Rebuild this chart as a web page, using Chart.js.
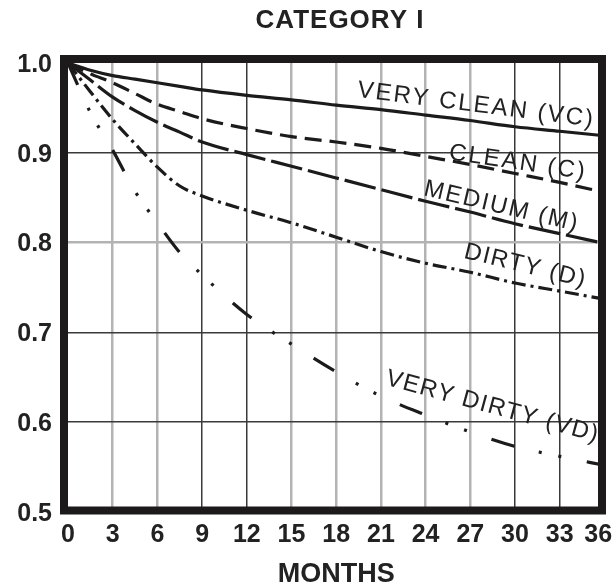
<!DOCTYPE html>
<html>
<head>
<meta charset="utf-8">
<script src="https://cdn.jsdelivr.net/npm/chart.js@4.4.1/dist/chart.umd.min.js"></script>
<style>
  html, body { margin: 0; padding: 0; background: #ffffff; }
  canvas { display: block; }
</style>
</head>
<body>
<canvas id="chart" width="613" height="588"></canvas>
<script>
// Elapsed time in months and the remaining fraction for each soiling class
const months     = [0, 1.5, 3, 4.5, 6, 7.5, 9, 12, 15, 18, 21, 24, 27, 30, 33, 36];
const veryClean  = [1.0, 0.992, 0.986, 0.982, 0.978, 0.974, 0.970, 0.964, 0.959, 0.953, 0.948, 0.942, 0.936, 0.929, 0.924, 0.919];
const clean      = [1.0, 0.988, 0.978, 0.966, 0.954, 0.946, 0.938, 0.927, 0.918, 0.912, 0.905, 0.896, 0.887, 0.877, 0.867, 0.856];
const medium     = [1.0, 0.981, 0.962, 0.947, 0.934, 0.923, 0.912, 0.898, 0.885, 0.872, 0.859, 0.846, 0.834, 0.821, 0.810, 0.799];
const dirty      = [1.0, 0.968, 0.937, 0.910, 0.884, 0.863, 0.852, 0.836, 0.822, 0.806, 0.790, 0.777, 0.767, 0.755, 0.746, 0.737];
const veryDirty  = [1.0, 0.945, 0.903, 0.857, 0.822, 0.789, 0.764, 0.720, 0.687, 0.656, 0.629, 0.608, 0.589, 0.573, 0.562, 0.552];

const seriesNames = ['VERY CLEAN (VC)', 'CLEAN (C)', 'MEDIUM (M)', 'DIRTY (D)', 'VERY DIRTY (VD)'];
const xTickValues = [0, 3, 6, 9, 12, 15, 18, 21, 24, 27, 30, 33, 36];
const yTickValues = [0.5, 0.6, 0.7, 0.8, 0.9, 1.0];
const chartTitle = 'CATEGORY I';
const xAxisTitle = 'MONTHS';

// Which grid lines are printed dark (the rest are light grey)
const darkMonthLines = [9, 12, 30, 33];
const darkValueLines = [0.6, 0.7, 0.9];

const FONT = "'Liberation Sans', Arial, Helvetica, sans-serif";
const INK = '#1c1a1b';

const toPoints = arr => months.map((m, i) => ({ x: m, y: arr[i] }));

const lineStyles = [
  { dash: [] },
  { dash: [17, 8] },
  { dash: [32, 6] },
  { dash: [14, 5, 3, 5] },
  { dash: [24, 25, 3, 17, 3, 26] }
];
const seriesData = [veryClean, clean, medium, dirty, veryDirty];

// In-plot curve captions: anchor in data units, rotation (degrees), letter spacing (px)
const captionPlacement = [
  { at: [27.4, 0.953], angle: 7.2,  spacing: 2.1 },
  { at: [30.2, 0.889], angle: 8.3,  spacing: 2.1 },
  { at: [29.1, 0.840], angle: 13.2, spacing: 1.9 },
  { at: [30.7, 0.774], angle: 13.6, spacing: 1.5 },
  { at: [28.5, 0.617], angle: 15.2, spacing: 1.4 }
];

const captionsPlugin = {
  id: 'curveCaptions',
  afterDatasetsDraw(chart) {
    const { ctx, scales: { x, y } } = chart;
    ctx.save();
    ctx.fillStyle = '#222';
    ctx.font = `24px ${FONT}`;
    ctx.textAlign = 'center';
    ctx.textBaseline = 'middle';
    captionPlacement.forEach((c, i) => {
      const px = x.getPixelForValue(c.at[0]);
      const py = y.getPixelForValue(c.at[1]);
      ctx.save();
      if ('letterSpacing' in ctx) ctx.letterSpacing = c.spacing + 'px';
      ctx.translate(px, py);
      ctx.rotate(c.angle * Math.PI / 180);
      ctx.fillText(seriesNames[i], 0, 0);
      ctx.restore();
    });
    ctx.restore();
  }
};

const frameAndTitlePlugin = {
  id: 'frameAndTitle',
  afterDraw(chart) {
    const { ctx, chartArea: a } = chart;
    ctx.save();
    // heavy frame round the plotting area
    ctx.strokeStyle = INK;
    ctx.lineWidth = 8;
    ctx.lineJoin = 'miter';
    ctx.strokeRect(a.left - 4, a.top - 4, (a.right - 2.4) - (a.left - 4), (a.bottom - 1.5) - (a.top - 4));
    // heading
    ctx.fillStyle = '#222';
    ctx.font = `bold 26px ${FONT}`;
    if ('letterSpacing' in ctx) ctx.letterSpacing = '1px';
    ctx.textAlign = 'center';
    ctx.textBaseline = 'alphabetic';
    ctx.fillText(chartTitle, 340, 28);
    ctx.restore();
  }
};

new Chart(document.getElementById('chart'), {
  type: 'line',
  data: {
    datasets: seriesData.map((arr, i) => ({
      label: seriesNames[i],
      data: toPoints(arr),
      borderColor: INK,
      borderWidth: 3.2,
      borderDash: lineStyles[i].dash,
      borderCapStyle: 'butt',
      pointRadius: 0,
      fill: false,
      cubicInterpolationMode: 'monotone'
    }))
  },
  options: {
    responsive: false,
    devicePixelRatio: 1,
    animation: false,
    layout: { padding: { top: 63, right: 8.6, left: 0, bottom: 0 } },
    plugins: { legend: { display: false }, tooltip: { enabled: false }, title: { display: false } },
    scales: {
      x: {
        type: 'linear',
        min: 0,
        max: 36,
        afterBuildTicks: s => { s.ticks = xTickValues.map(v => ({ value: v })); },
        afterFit: s => { s.height = 76; s.paddingLeft = 0; s.paddingRight = 0; },
        border: { display: false },
        grid: {
          drawTicks: false,
          color: c => (c.tick.value === 0 || c.tick.value === 36) ? 'rgba(0,0,0,0)'
                       : (darkMonthLines.includes(c.tick.value) ? '#3a3a3a' : '#b3b3b3'),
          lineWidth: c => darkMonthLines.includes(c.tick.value) ? 1.5 : 2.5
        },
        ticks: {
          autoSkip: false,
          maxRotation: 0,
          padding: 8,
          color: '#222',
          font: { family: FONT, size: 25, weight: 'bold' },
          // the last label sits against the frame, so it is nudged inward with a trailing en space
          callback: v => (v === 36 ? '36\u2002' : String(v))
        },
        title: {
          display: true,
          text: xAxisTitle,
          color: '#222',
          font: { family: FONT, size: 27, weight: 'bold', lineHeight: 1 },
          padding: { top: 0, bottom: 0 }
        }
      },
      y: {
        type: 'linear',
        min: 0.5,
        max: 1.0,
        afterBuildTicks: s => { s.ticks = yTickValues.map(v => ({ value: v })); },
        afterFit: s => { s.width = 68; s.paddingTop = 0; s.paddingBottom = 0; },
        border: { display: false },
        grid: {
          drawTicks: false,
          color: c => (c.tick.value === 0.5 || c.tick.value === 1.0) ? 'rgba(0,0,0,0)'
                       : (darkValueLines.includes(c.tick.value) ? '#3a3a3a' : '#b3b3b3'),
          lineWidth: c => darkValueLines.includes(c.tick.value) ? 1.5 : 2.5
        },
        ticks: {
          autoSkip: false,
          padding: 16,
          labelOffset: 2,
          color: '#222',
          font: { family: FONT, size: 25, weight: 'bold' },
          callback: v => Number(v).toFixed(1)
        }
      }
    }
  },
  plugins: [captionsPlugin, frameAndTitlePlugin]
});
</script>
</body>
</html>
